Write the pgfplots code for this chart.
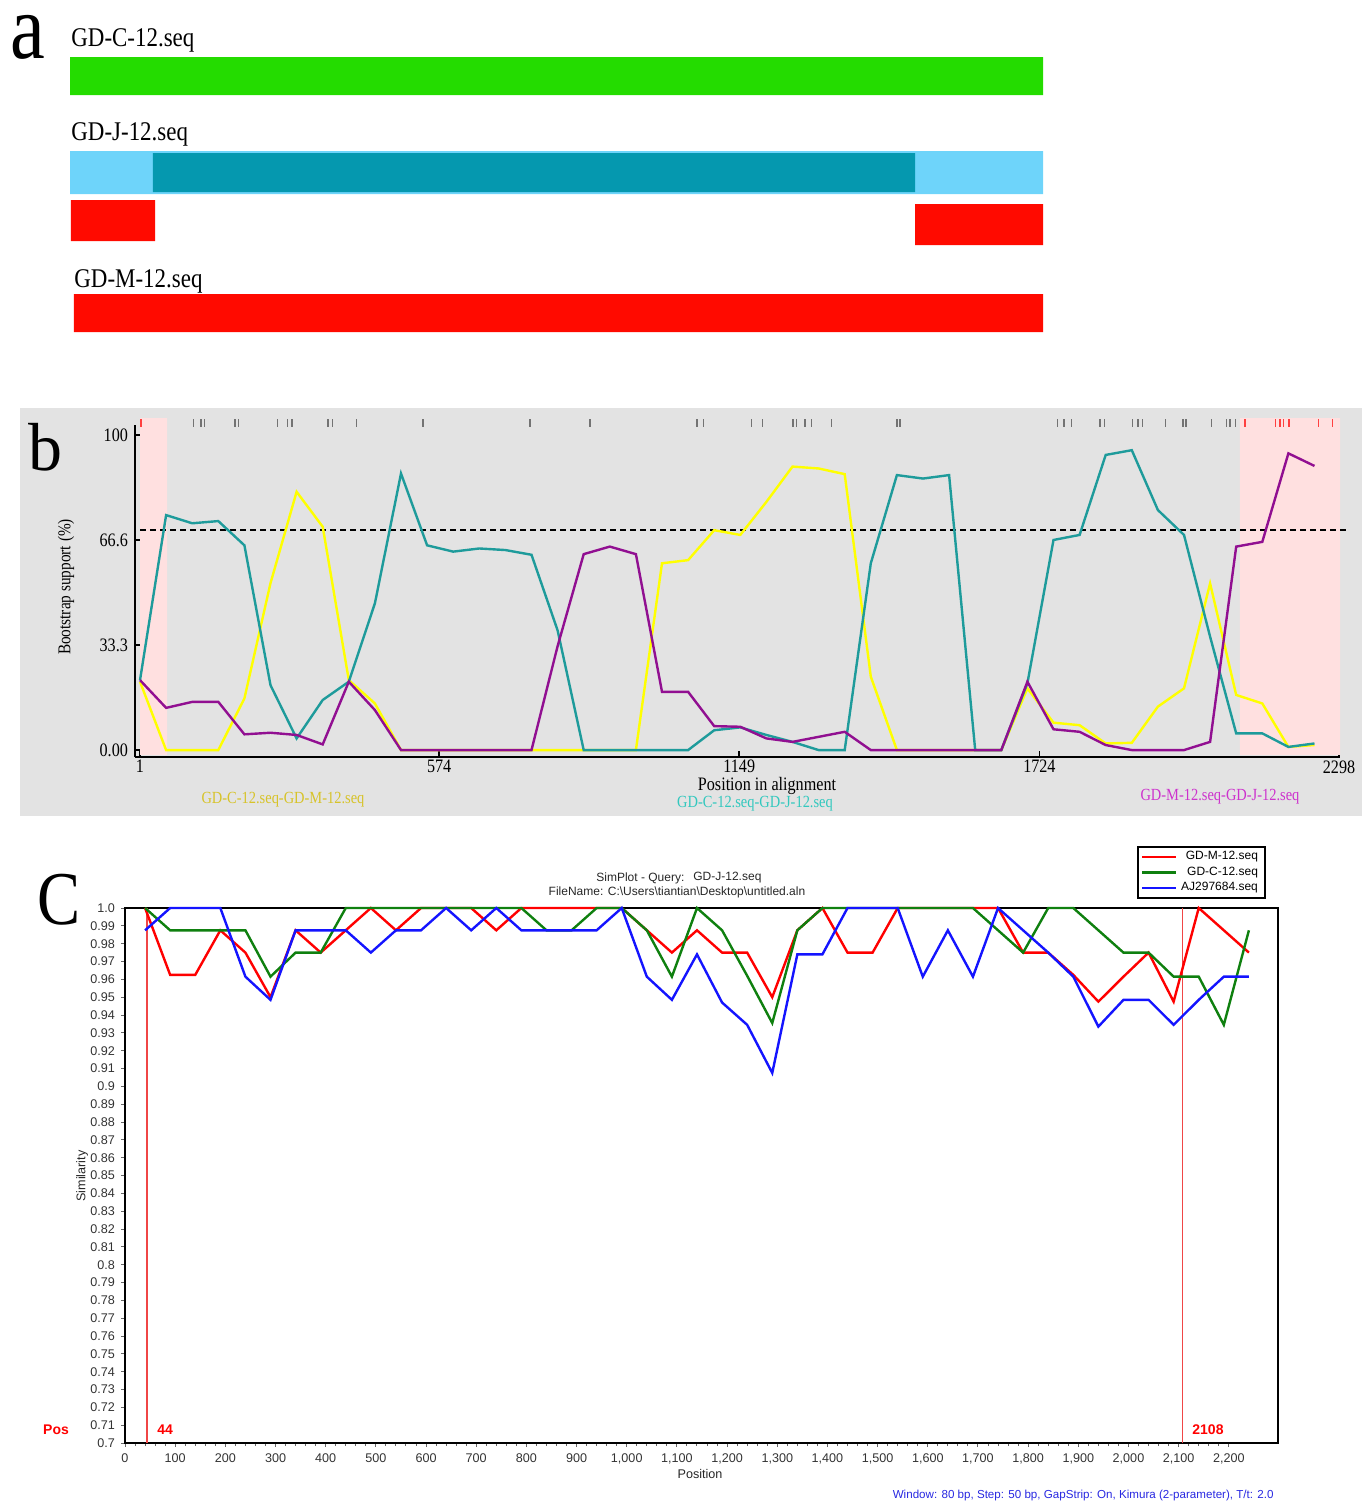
\documentclass[border=0pt]{standalone}
\usepackage{fontspec}
\setmainfont{Liberation Serif}
\setsansfont{Liberation Sans}
\newfontfamily\condserif[FakeStretch=0.85]{Liberation Serif}
\usepackage{pgfplots}
\pgfplotsset{compat=1.18}
\definecolor{cgreen}{RGB}{36,220,0}
\definecolor{lblue}{RGB}{110,212,250}
\definecolor{dteal}{RGB}{5,152,175}
\definecolor{bred}{RGB}{255,10,0}
\definecolor{bggray}{RGB}{227,227,227}
\definecolor{pinkr}{RGB}{255,224,224}
\definecolor{lteal}{RGB}{30,155,155}
\definecolor{lyell}{RGB}{255,255,0}
\definecolor{lpurp}{RGB}{145,15,145}
\definecolor{tyell}{RGB}{215,195,40}
\definecolor{tteal}{RGB}{50,200,190}
\definecolor{tpurp}{RGB}{205,50,205}
\definecolor{sred}{RGB}{255,0,0}
\definecolor{sgreen}{RGB}{15,128,15}
\definecolor{sblue}{RGB}{20,20,255}
\definecolor{vred}{RGB}{240,70,70}
\definecolor{wblue}{RGB}{40,40,225}
\begin{document}
\begin{tikzpicture}
\begin{scope}[x=0.5pt,y=-0.5pt]
\path (0,0) rectangle (1367,1503);
\fill[bggray] (20,408) rectangle (1362,816);
\end{scope}

% ---------------- panel a ----------------
\begin{axis}[at={(35pt,0pt)}, anchor=north west, scale only axis,
  width=486.5pt, height=170pt, xmin=0, xmax=2298, ymin=0, ymax=340,
  y dir=reverse, hide axis, clip=false]
\addplot[draw=none, fill=cgreen] coordinates {(0,57)(2298,57)(2298,95)(0,95)(0,57)};
\addplot[draw=none, fill=lblue] coordinates {(0,151)(2298,151)(2298,194)(0,194)(0,151)};
\addplot[draw=none, fill=dteal] coordinates {(196,153)(1996,153)(1996,192)(196,192)(196,153)};
\addplot[draw=none, fill=bred] coordinates {(2,200)(201,200)(201,241)(2,241)(2,200)};
\addplot[draw=none, fill=bred] coordinates {(1996,204)(2298,204)(2298,245)(1996,245)(1996,204)};
\addplot[draw=none, fill=bred] coordinates {(9,294)(2298,294)(2298,332)(9,332)(9,294)};
\end{axis}

% ---------------- panel b ----------------
\begin{axis}[at={(67.5pt,-378.5pt)}, anchor=south west, scale only axis,
  width=602.53pt, height=166pt, xmin=-8.6, xmax=2300, ymin=-2.2, ymax=103.2,
  axis lines*=left, axis line style={black, line width=1.1pt},
  xtick={1,574,1149,1724,2298}, xticklabels={1,574,1149,1724,2298},
  ytick={0,33.3,66.6,100}, yticklabels={0.00,33.3,66.6,100},
  tick style={black, line width=0.8pt}, major tick length=3pt, tick align=inside,
  ticklabel style={font=\condserif\fontsize{9.5}{11}\selectfont},
  xticklabel style={inner sep=1.5pt},
  clip=false]
\addplot[draw=none, fill=pinkr] coordinates {(1,105.4)(53,105.4)(53,-1.5)(1,-1.5)(1,105.4)};
\addplot[draw=none, fill=pinkr] coordinates {(2108,105.4)(2300,105.4)(2300,-1.5)(2108,-1.5)(2108,105.4)};
\addplot[black, line width=1pt, dash pattern=on 3pt off 2pt] coordinates {(1,70)(2315,70)};
\addplot[only marks, mark=|, mark size=2pt, mark options={line width=0.6pt, draw=black!55}] coordinates {
(104,103.8)(118,103.8)(124,103.8)(183,103.8)(189,103.8)(265,103.8)(283,103.8)(292,103.8)(361,103.8)(369,103.8)(415,103.8)(543,103.8)(748,103.8)(863,103.8)(1068,103.8)(1080,103.8)(1172,103.8)(1193,103.8)(1252,103.8)(1258,103.8)(1275,103.8)(1287,103.8)(1325,103.8)(1451,103.8)(1457,103.8)(1758,103.8)(1771,103.8)(1785,103.8)(1840,103.8)(1848,103.8)(1903,103.8)(1913,103.8)(1922,103.8)(1965,103.8)(1999,103.8)(2005,103.8)(2053,103.8)(2083,103.8)(2089,103.8)(2099,103.8)};
\addplot[only marks, mark=|, mark size=2pt, mark options={line width=0.6pt, draw=red!75}] coordinates {
(3,103.8)(2118,103.8)(2177,103.8)(2185,103.8)(2191,103.8)(2202,103.8)(2258,103.8)(2285,103.8)};
% GD-C-12.seq-GD-M-12.seq
\addplot[lyell, line width=1.2pt] coordinates {
(1,21.7)(51,0)(101,0)(151,0)(201,16.4)(251,53)(301,82)(351,70.9)(401,22.2)(451,14.8)(501,0)(551,0)(601,0)(651,0)(701,0)(751,0)(801,0)(851,0)(901,0)(951,0)(1001,59.3)(1051,60.3)(1101,69.8)(1151,68.3)(1201,78.8)(1251,90)(1301,89.4)(1351,87.6)(1401,23.3)(1451,0)(1501,0)(1551,0)(1601,0)(1651,0)(1701,19.6)(1751,8.7)(1801,7.9)(1851,2.1)(1901,2.3)(1951,13.8)(2001,19.6)(2051,52.9)(2101,17.5)(2151,14.8)(2201,1)(2251,1.6)};
% GD-C-12.seq-GD-J-12.seq
\addplot[lteal, line width=1.2pt] coordinates {
(1,22.2)(51,74.6)(101,72)(151,72.7)(201,65)(251,20.6)(301,3.7)(351,15.9)(401,21.7)(451,46.6)(501,87.8)(551,65)(601,63)(651,64)(701,63.5)(751,62)(801,38)(851,0)(901,0)(951,0)(1001,0)(1051,0)(1101,6.3)(1151,7.2)(1201,4.8)(1251,2.6)(1301,0)(1351,0)(1401,59.3)(1451,87.3)(1501,86.2)(1551,87.3)(1601,0)(1651,0)(1701,21.2)(1751,66.7)(1801,68.3)(1851,93.7)(1901,95.2)(1951,76.2)(2001,68.3)(2051,36)(2101,5.3)(2151,5.3)(2201,1)(2251,2.1)};
% GD-M-12.seq-GD-J-12.seq
\addplot[lpurp, line width=1.2pt] coordinates {
(1,22.2)(51,13.4)(101,15.3)(151,15.3)(201,5)(251,5.5)(301,4.8)(351,1.8)(401,21.7)(451,12.7)(501,0)(551,0)(601,0)(651,0)(701,0)(751,0)(801,33)(851,62.2)(901,64.6)(951,62.2)(1001,18.5)(1051,18.5)(1101,7.6)(1151,7.4)(1201,3.7)(1251,2.6)(1301,4.2)(1351,5.8)(1401,0)(1451,0)(1501,0)(1551,0)(1601,0)(1651,0)(1701,21.7)(1751,6.6)(1801,5.8)(1851,1.6)(1901,0)(1951,0)(2001,0)(2051,2.6)(2101,64.6)(2151,66.1)(2201,94.2)(2251,90.2)};
\end{axis}

% ---------------- panel c ----------------
\begin{axis}[at={(62.5pt,-721.5pt)}, anchor=south west, scale only axis,
  width=576.5pt, height=267.5pt, xmin=0, xmax=2298, ymin=0.7, ymax=1.0,
  axis line style={black, line width=1pt},
  xtick={0,100,200,300,400,500,600,700,800,900,1000,1100,1200,1300,1400,1500,1600,1700,1800,1900,2000,2100,2200},
  xticklabels={0,100,200,300,400,500,600,700,800,900,{1,000},{1,100},{1,200},{1,300},{1,400},{1,500},{1,600},{1,700},{1,800},{1,900},{2,000},{2,100},{2,200}},
  ytick={0.70,0.71,0.72,0.73,0.74,0.75,0.76,0.77,0.78,0.79,0.80,0.81,0.82,0.83,0.84,0.85,0.86,0.87,0.88,0.89,0.90,0.91,0.92,0.93,0.94,0.95,0.96,0.97,0.98,0.99,1.00},
  yticklabels={0.7,0.71,0.72,0.73,0.74,0.75,0.76,0.77,0.78,0.79,0.8,0.81,0.82,0.83,0.84,0.85,0.86,0.87,0.88,0.89,0.9,0.91,0.92,0.93,0.94,0.95,0.96,0.97,0.98,0.99,1.0},
  minor x tick num=4,
  xtick pos=bottom, ytick pos=left, tick align=outside,
  major tick length=2pt, minor tick length=1.5pt,
  tick style={black!60, line width=0.5pt},
  ticklabel style={font=\sffamily\fontsize{6.3}{7}\selectfont, text=black!80},
  yticklabel style={xshift=0.5pt},
  clip=false,
  legend style={at={(0.8777,1.1159)}, anchor=north west, draw=black, line width=0.8pt,
    font=\sffamily\fontsize{6}{7}\selectfont, inner xsep=1.5pt, inner ysep=0.3pt,
    row sep=-2pt, cells={anchor=east}},
  legend image code/.code={\draw[#1] (0pt,0pt) -- (17pt,0pt);}]
\addplot[vred, line width=0.8pt, forget plot] coordinates {(44,0.7)(44,1.0)};
\addplot[vred, line width=0.8pt, forget plot] coordinates {(2108,0.7)(2108,1.0)};
\addplot[sred, line width=1.2pt] coordinates {
(40,1.0)(90,0.9625)(140,0.9625)(190,0.9875)(240,0.975)(290,0.95)(340,0.9875)(390,0.975)(440,0.9875)(490,1.0)(540,0.9875)(590,1.0)(640,1.0)(690,1.0)(740,0.9875)(790,1.0)(840,1.0)(890,1.0)(940,1.0)(990,1.0)(1040,0.9875)(1090,0.975)(1140,0.9875)(1190,0.975)(1240,0.975)(1290,0.95)(1340,0.9875)(1390,1.0)(1440,0.975)(1490,0.975)(1540,1.0)(1590,1.0)(1640,1.0)(1690,1.0)(1740,1.0)(1790,0.975)(1840,0.975)(1890,0.9625)(1940,0.9475)(1990,0.9615)(2040,0.975)(2090,0.9475)(2140,1.0)(2190,0.9875)(2240,0.975)};
\addlegendentry{GD-M-12.seq}
\addplot[sgreen, line width=1.2pt] coordinates {
(40,1.0)(90,0.9875)(140,0.9875)(190,0.9875)(240,0.9875)(290,0.9615)(340,0.975)(390,0.975)(440,1.0)(490,1.0)(540,1.0)(590,1.0)(640,1.0)(690,1.0)(740,1.0)(790,1.0)(840,0.9875)(890,0.9875)(940,1.0)(990,1.0)(1040,0.9875)(1090,0.9615)(1140,1.0)(1190,0.9875)(1240,0.962)(1290,0.9355)(1340,0.9875)(1390,1.0)(1440,1.0)(1490,1.0)(1540,1.0)(1590,1.0)(1640,1.0)(1690,1.0)(1740,0.9875)(1790,0.975)(1840,1.0)(1890,1.0)(1940,0.9875)(1990,0.975)(2040,0.975)(2090,0.9615)(2140,0.9615)(2190,0.9345)(2240,0.9875)};
\addlegendentry{GD-C-12.seq}
\addplot[sblue, line width=1.2pt] coordinates {
(40,0.9875)(90,1.0)(140,1.0)(190,1.0)(240,0.9615)(290,0.9485)(340,0.9875)(390,0.9875)(440,0.9875)(490,0.975)(540,0.9875)(590,0.9875)(640,1.0)(690,0.9875)(740,1.0)(790,0.9875)(840,0.9875)(890,0.9875)(940,0.9875)(990,1.0)(1040,0.9615)(1090,0.9485)(1140,0.974)(1190,0.947)(1240,0.9345)(1290,0.9075)(1340,0.974)(1390,0.974)(1440,1.0)(1490,1.0)(1540,1.0)(1590,0.9615)(1640,0.9875)(1690,0.9615)(1740,1.0)(1790,0.9875)(1840,0.975)(1890,0.9615)(1940,0.9335)(1990,0.9485)(2040,0.9485)(2090,0.9345)(2140,0.9485)(2190,0.9615)(2240,0.9615)};
\addlegendentry{AJ297684.seq}
\end{axis}

% ---------------- texts ----------------
\begin{scope}[x=0.5pt,y=-0.5pt]
% panel a
\node[anchor=base west, inner sep=0, font=\condserif\fontsize{46}{48}\selectfont] at (10,59) {a};
\node[anchor=base west, inner sep=0, font=\condserif\fontsize{13.5}{15}\selectfont] at (71,47) {GD-C-12.seq};
\node[anchor=base west, inner sep=0, font=\condserif\fontsize{13.5}{15}\selectfont] at (71,141) {GD-J-12.seq};
\node[anchor=base west, inner sep=0, font=\condserif\fontsize{13.5}{15}\selectfont] at (74,287) {GD-M-12.seq};
% panel b
\node[anchor=base west, inner sep=0, font=\fontsize{34}{36}\selectfont] at (28,470) {b};
\node[rotate=90, font=\condserif\fontsize{9}{10}\selectfont] at (66,587) {Bootstrap support (\%)};
\node[inner sep=0, font=\condserif\fontsize{9.5}{11}\selectfont] at (767,786) {Position in alignment};
\node[text=tyell, font=\condserif\fontsize{8.5}{10}\selectfont] at (283,800) {GD-C-12.seq-GD-M-12.seq};
\node[text=tteal, font=\condserif\fontsize{8.5}{10}\selectfont] at (755,804) {GD-C-12.seq-GD-J-12.seq};
\node[text=tpurp, font=\condserif\fontsize{8.5}{10}\selectfont] at (1220,797) {GD-M-12.seq-GD-J-12.seq};
% panel c
\node[inner sep=0, font=\condserif\fontsize{38}{40}\selectfont] at (59,900) {C};
\node[anchor=west, inner sep=0, font=\sffamily\fontsize{6}{7}\selectfont, text=black!85] at (596,878) {SimPlot - Query:};
\node[anchor=west, inner sep=0, font=\sffamily\fontsize{6}{7}\selectfont, text=black!85] at (693,878) {GD-J-12.seq};
\node[inner sep=0, font=\sffamily\fontsize{6}{7}\selectfont, text=black!85] at (677,892) {FileName: C:\textbackslash Users\textbackslash tiantian\textbackslash Desktop\textbackslash untitled.aln};
\node[rotate=90, inner sep=0, font=\sffamily\fontsize{6.3}{7}\selectfont, text=black!85] at (82,1176) {Similarity};
\node[inner sep=0, font=\sffamily\fontsize{6.3}{7}\selectfont, text=black!85] at (700,1474) {Position};
\node[inner sep=0, font=\sffamily\bfseries\fontsize{7}{8}\selectfont, text=sred] at (56,1430) {Pos};
\node[anchor=west, inner sep=0, font=\sffamily\bfseries\fontsize{7}{8}\selectfont, text=sred] at (157,1430) {44};
\node[anchor=west, inner sep=0, font=\sffamily\bfseries\fontsize{7}{8}\selectfont, text=sred] at (1192,1430) {2108};
\node[anchor=east, inner sep=0, font=\sffamily\fontsize{5.8}{7}\selectfont, text=wblue] at (1274,1495) {Window: 80 bp, Step: 50 bp, GapStrip: On, Kimura (2-parameter), T/t: 2.0};
\end{scope}
\end{tikzpicture}
\end{document}
